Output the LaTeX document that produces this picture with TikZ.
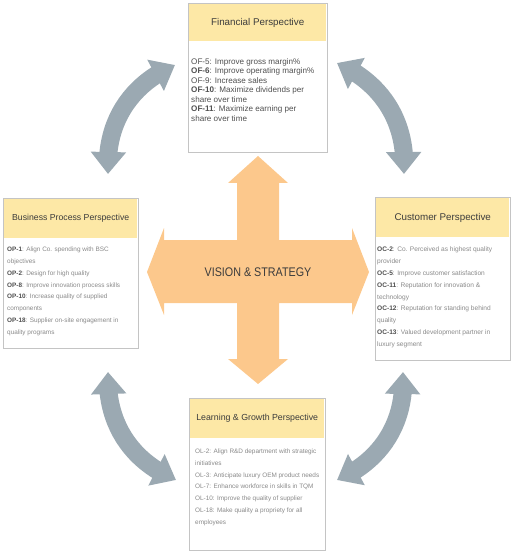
\documentclass[tikz,border=0pt]{standalone}
\usepackage{fontspec}
\setmainfont{Liberation Sans}
\usetikzlibrary{arrows.meta,bending}
\definecolor{hdr}{HTML}{FDE8A6}
\definecolor{orng}{HTML}{FCC88C}
\definecolor{arw}{HTML}{9BA9B2}
\definecolor{bord}{HTML}{C4C4C4}
\definecolor{htext}{HTML}{3C3C3C}
\definecolor{dtext}{HTML}{505050}
\definecolor{ltext}{HTML}{8A8A8A}
\begin{document}
\begin{tikzpicture}[x=1pt,y=-1pt,
  pbox/.style={draw=bord, line width=0.9pt, fill=white, rectangle, inner sep=0pt, anchor=north west},
  hbox/.style={fill=hdr, rectangle, inner sep=0pt, anchor=north west, text=htext},
  body/.style={anchor=north west, inner sep=0pt, align=left},
  garrow/.style={draw=arw, line width=18pt, {Triangle[width=34pt,length=22pt]}-{Triangle[width=34pt,length=22pt]}},
  cross/.style={fill=orng, draw=none}]
\useasboundingbox (0,0) rectangle (515,553);

% curved gray arrows
\coordinate (tla) at (108,174); \coordinate (tlb) at (175,65);
\coordinate (tra) at (337,63);  \coordinate (trb) at (404,174);
\coordinate (bra) at (403,372); \coordinate (brb) at (337,480);
\coordinate (bla) at (176,480); \coordinate (blb) at (108,372);
\draw[garrow] (tla) to[bend left=35] (tlb);
\draw[garrow] (tra) to[bend left=35] (trb);
\draw[garrow] (bra) to[bend left=35] (brb);
\draw[garrow] (bla) to[bend left=35] (blb);

% central cross arrow
\path[cross] (258,156) -- (288,183) -- (279,183) -- (279,240) -- (352,240) -- (352,228)
  -- (369,272) -- (352,315) -- (352,303) -- (279,303) -- (279,359) -- (288,359)
  -- (258,384) -- (228,359) -- (237,359) -- (237,303) -- (164,303) -- (164,315)
  -- (147,272) -- (164,228) -- (164,240) -- (237,240) -- (237,183) -- (228,183) -- cycle;
\node[text=htext, inner sep=0pt] (vis) at (258,272) {\scalebox{0.86}[1]{\fontsize{12.5}{14}\selectfont VISION \& STRATEGY}};

% Financial
\node[pbox, minimum width=139pt, minimum height=149pt] (fin) at (188,3) {};
\node[hbox, minimum width=137pt, minimum height=37pt, font=\fontsize{9.8}{11}\selectfont] (finh) at (189,4) {Financial Perspective};
\node[body, text=dtext, font=\fontsize{8.1}{9.55}\selectfont] (finb) at (191,58) {%
OF-5: Improve gross margin\%\\
\textbf{OF-6}: Improve operating margin\%\\
OF-9: Increase sales\\
\textbf{OF-10}: Maximize dividends per\\
share over time\\
\textbf{OF-11}: Maximize earning per\\
share over time};

% Business
\node[pbox, minimum width=135pt, minimum height=150pt] (bus) at (3,198) {};
\node[hbox, minimum width=133pt, minimum height=39pt, font=\fontsize{8.7}{10}\selectfont] (bush) at (4,199) {Business Process Perspective};
\node[body, text=ltext, font=\fontsize{6.4}{11.75}\selectfont] (busb) at (7,247) {%
\textcolor{dtext}{\textbf{OP-1}}: Align Co. spending with BSC\\
objectives\\
\textcolor{dtext}{\textbf{OP-2}}: Design for high quality\\
\textcolor{dtext}{\textbf{OP-8}}: Improve innovation process skills\\
\textcolor{dtext}{\textbf{OP-10}}: Increase quality of supplied\\
components\\
\textcolor{dtext}{\textbf{OP-18}}: Supplier on-site engagement in\\
quality programs};

% Customer
\node[pbox, minimum width=135pt, minimum height=163pt] (cus) at (375,197) {};
\node[hbox, minimum width=133pt, minimum height=39pt, font=\fontsize{9.8}{11}\selectfont] (cush) at (376,198) {Customer Perspective};
\node[body, text=ltext, font=\fontsize{6.6}{11.8}\selectfont] (cusb) at (377,247) {%
\textcolor{dtext}{\textbf{OC-2}}: Co. Perceived as highest quality\\
provider\\
\textcolor{dtext}{\textbf{OC-5}}: Improve customer satisfaction\\
\textcolor{dtext}{\textbf{OC-11}}: Reputation for innovation \&\\
technology\\
\textcolor{dtext}{\textbf{OC-12}}: Reputation for standing behind\\
quality\\
\textcolor{dtext}{\textbf{OC-13}}: Valued development partner in\\
luxury segment};

% Learning
\node[pbox, minimum width=136pt, minimum height=152pt] (lea) at (189,398) {};
\node[hbox, minimum width=134pt, minimum height=39pt, font=\fontsize{8.8}{10}\selectfont] (leah) at (190,399) {Learning \& Growth Perspective};
\node[body, text=ltext, font=\fontsize{6.4}{11.7}\selectfont] (leab) at (195,449) {%
OL-2: Align R\&D department with strategic\\
initiatives\\
OL-3: Anticipate luxury OEM product needs\\
OL-7: Enhance workforce in skills in TQM\\
OL-10: Improve the quality of supplier\\
OL-18: Make quality a propriety for all\\
employees};
\end{tikzpicture}
\end{document}
